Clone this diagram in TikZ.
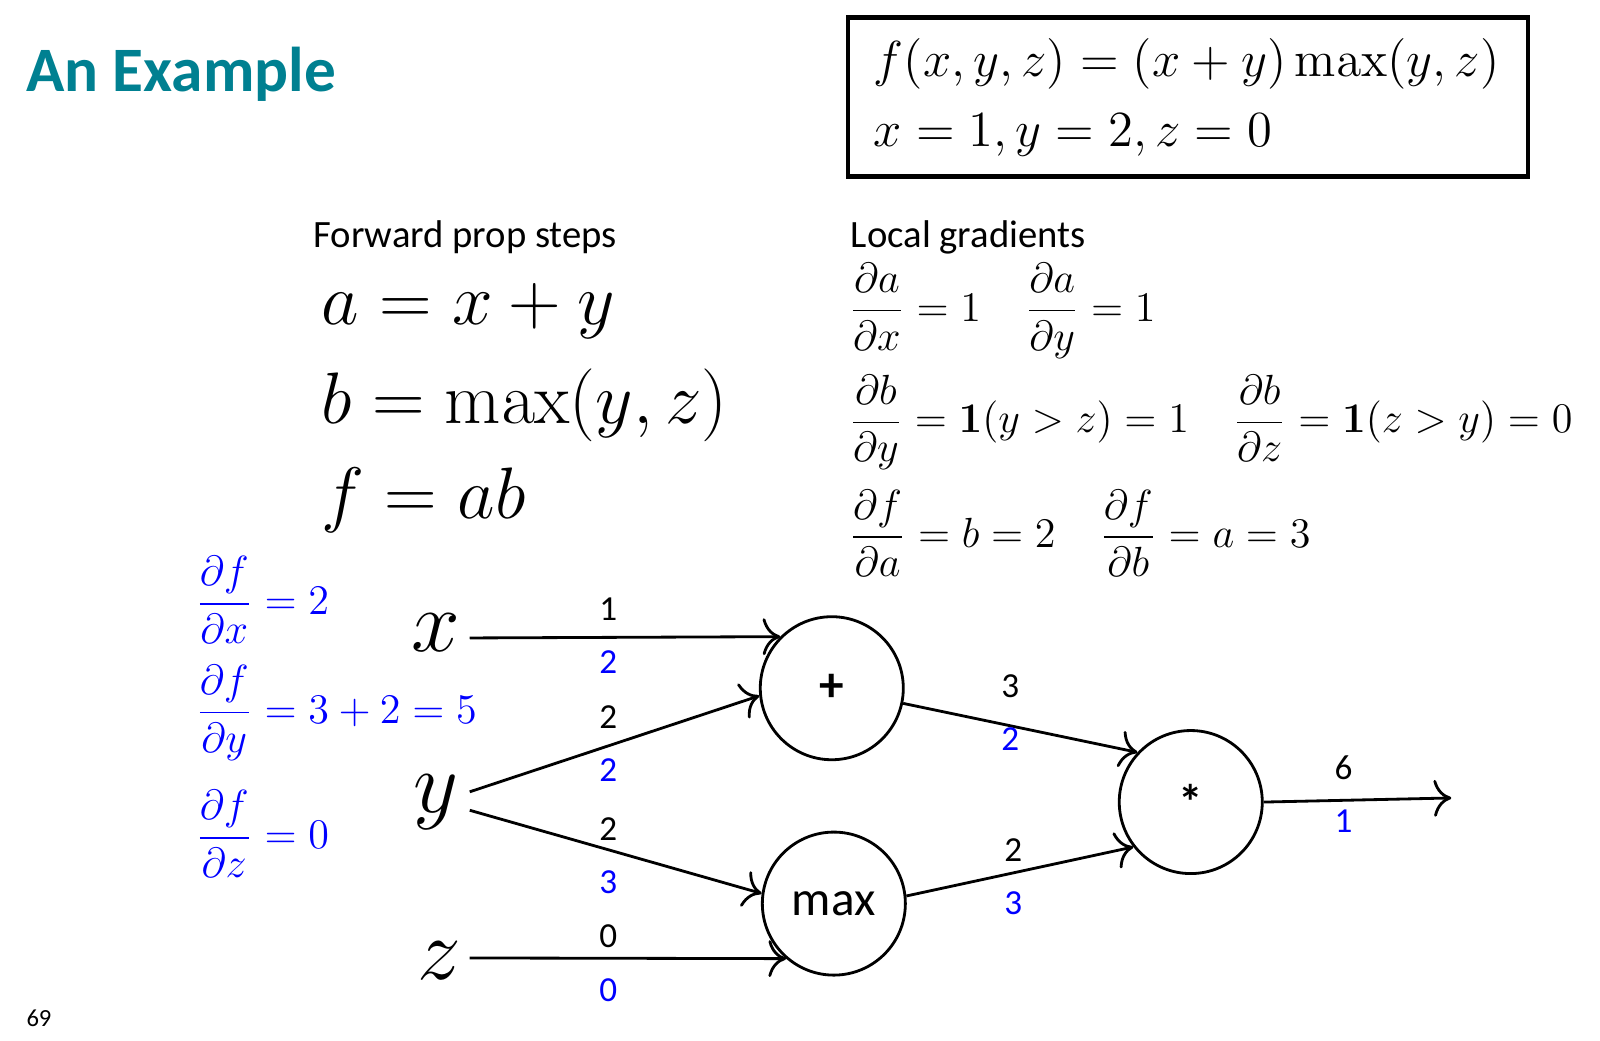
\documentclass[tikz,border=0pt]{standalone}
\usepackage{amsmath}
\usepackage[no-math]{fontspec}
\setmainfont{Carlito}
\usetikzlibrary{arrows.meta}
\definecolor{teal69}{RGB}{0,128,145}
\begin{document}
\begin{tikzpicture}[x=0.010256cm, y=-0.010256cm,
  op/.style={circle, draw, thick, minimum size=1.43cm, font=\fontsize{14}{16}\selectfont},
  var/.style={font=\fontsize{23}{26}\selectfont},
  edge/.style={thick, -{To[length=5pt]}},
  val/.style={font=\fontsize{10}{12}\selectfont},
  grad/.style={font=\fontsize{10}{12}\selectfont, text=blue}]
  \useasboundingbox (0,0) rectangle (1560,1014);

  % title and definition
  \node[anchor=west, text=teal69, font=\fontsize{18}{22}\selectfont\bfseries, inner sep=0pt] (title) at (25,72) {An Example};
  \draw[very thick] (827,17) rectangle (1490,172);
  \node[anchor=west, font=\fontsize{15}{18}\selectfont] (def1) at (840,62) {$f(x,y,z)=(x+y)\max(y,z)$};
  \node[anchor=west, font=\fontsize{15}{18}\selectfont] (def2) at (840,132) {$x=1,y=2,z=0$};

  % forward steps
  \node[anchor=west, font=\fontsize{11}{13}\selectfont, inner sep=0pt] (fwd) at (305,231) {Forward prop steps};
  \node[anchor=west, font=\fontsize{20}{24}\selectfont, inner sep=0pt] (fa) at (313,303) {$a=x+y$};
  \node[anchor=west, font=\fontsize{20}{24}\selectfont, inner sep=0pt] (fb) at (313,395) {$b=\max(y,z)$};
  \node[anchor=west, font=\fontsize{20}{24}\selectfont, inner sep=0pt] (ff) at (313,488) {$f=ab$};

  % local gradients
  \node[anchor=west, font=\fontsize{11}{13}\selectfont, inner sep=0pt] (loc) at (829,231) {Local gradients};
  \node[anchor=west, font=\fontsize{12.5}{15}\selectfont, inner sep=0pt] (la) at (827,303)
       {$\dfrac{\partial a}{\partial x}=1\quad\dfrac{\partial a}{\partial y}=1$};
  \node[anchor=west, font=\fontsize{12.5}{15}\selectfont, inner sep=0pt] (lb) at (827,412)
       {$\dfrac{\partial b}{\partial y}=\mathbf{1}(y>z)=1\quad\dfrac{\partial b}{\partial z}=\mathbf{1}(z>y)=0$};
  \node[anchor=west, font=\fontsize{12.5}{15}\selectfont, inner sep=0pt] (lf) at (827,520)
       {$\dfrac{\partial f}{\partial a}=b=2\quad\dfrac{\partial f}{\partial b}=a=3$};

  % final gradients
  \node[anchor=west, text=blue, font=\fontsize{12.5}{15}\selectfont, inner sep=0pt] (gx) at (190,585) {$\dfrac{\partial f}{\partial x}=2$};
  \node[anchor=west, text=blue, font=\fontsize{12.5}{15}\selectfont, inner sep=0pt] (gy) at (190,695) {$\dfrac{\partial f}{\partial y}=3+2=5$};
  \node[anchor=west, text=blue, font=\fontsize{12.5}{15}\selectfont, inner sep=0pt] (gz) at (190,813) {$\dfrac{\partial f}{\partial z}=0$};

  % graph
  \node[var] (x) at (425,617) {$x$};
  \node[var] (y) at (425,782) {$y$};
  \node[var] (z) at (428,937) {$z$};
  \node[op] (plus) at (811,671) {\textbf{+}};
  \node[op] (max) at (813,881) {max};
  \node[op] (mul) at (1161,782) {\textbf{*}};
  \coordinate (xs) at (458,622);
  \coordinate (ys1) at (458,772);
  \coordinate (ys2) at (458,790);
  \coordinate (zs) at (458,934);
  \coordinate (out) at (1415,778);

  \draw[edge] (xs) -- (plus.135.6);
  \draw[edge] (ys1) -- (plus.186);
  \draw[edge] (ys2) -- (max.172);
  \draw[edge] (zs) -- (max.229);
  \draw[edge] (plus.-12) -- (mul.137);
  \draw[edge] (max.6) -- (mul.218);
  \draw[edge] (mul.east) -- (out);

  \foreach \px/\py/\v/\g in {593/594/1/2, 593/699/2/2, 593/808/2/3, 593/913/0/0,
                             985/669/3/2, 988/829/2/3, 1310/749/6/1} {
    \node[val] at (\px,\py) {\v};
    \node[grad] at (\px,\py+52) {\g};
  }

  \node[font=\fontsize{7}{8}\selectfont] (page) at (38,993) {69};
\end{tikzpicture}
\end{document}
